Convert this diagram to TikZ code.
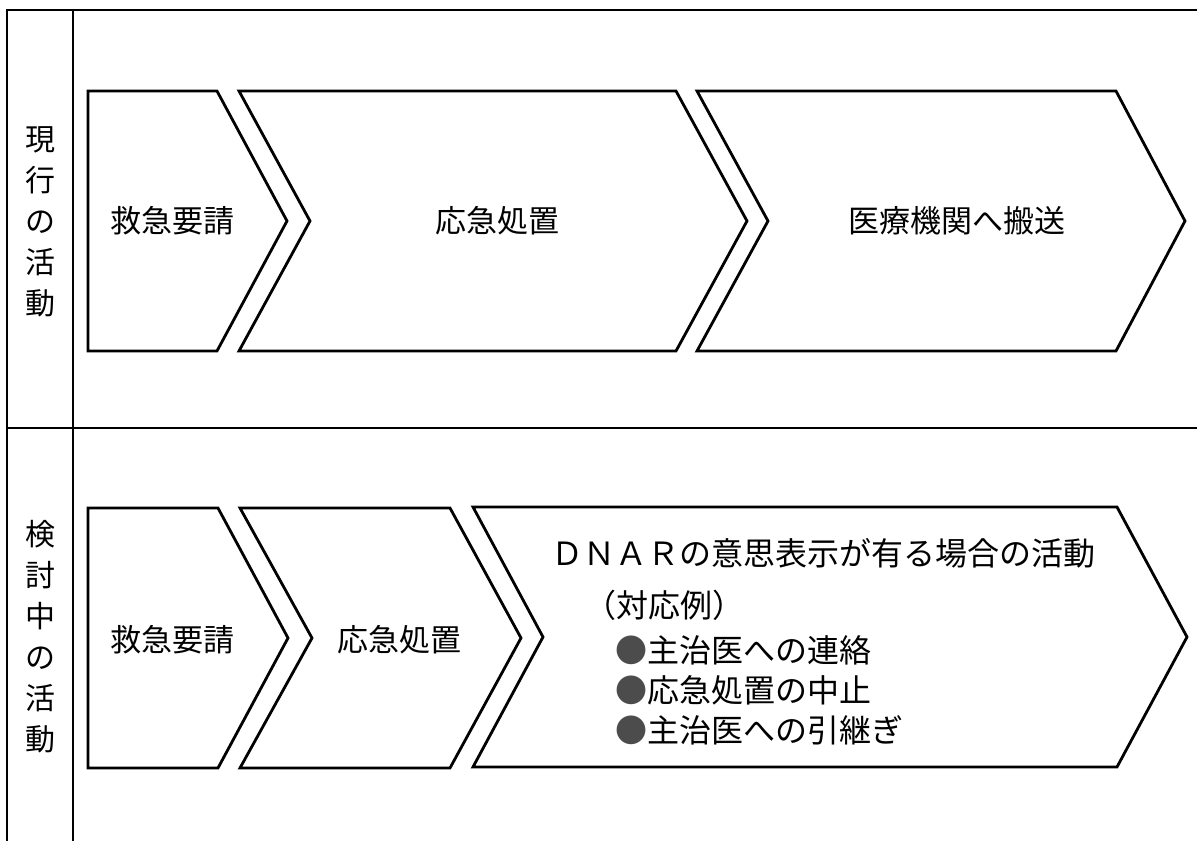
\documentclass[tikz,border=0pt]{standalone}
\usepackage{fontspec}
\setmainfont{Noto Sans CJK JP}
\begin{document}
\begin{tikzpicture}[x=1pt,y=-1pt,
  frameline/.style={line width=2pt},
  chev/.style={draw, line width=2.8pt, line join=miter},
  lbl/.style={font=\fontsize{31}{36}\selectfont, inner sep=0pt},
  vlbl/.style={font=\fontsize{30}{41}\selectfont, align=center, inner sep=0pt},
  item/.style={font=\fontsize{32}{36}\selectfont, anchor=west, inner sep=0pt}]
\useasboundingbox (0,0) rectangle (1197,841);
% frame
\coordinate (ftr) at (1197,10);
\coordinate (ftl) at (7,10);
\coordinate (fbl) at (7,841);
\coordinate (ct) at (73,10);
\coordinate (cb) at (73,841);
\coordinate (ml) at (7,428);
\coordinate (mr) at (1197,428);
\draw[frameline] (ftr) -- (ftl) -- (fbl);
\draw[frameline] (ct) -- (cb);
\draw[frameline] (ml) -- (mr);

% row labels
\node[vlbl] (lab1) at (40,222) {現\\行\\の\\活\\動};
\node[vlbl] (lab2) at (40,637) {検\\討\\中\\の\\活\\動};

% row 1 chevrons
\draw[chev] (88,91) -- (217,91) -- (287,221) -- (217,351) -- (88,351) -- cycle;
\draw[chev] (239,91) -- (676,91) -- (747,221) -- (676,351) -- (239,351) -- (310,221) -- cycle;
\draw[chev] (697,91) -- (1116,91) -- (1185,221) -- (1116,351) -- (697,351) -- (768,221) -- cycle;
\node[lbl] (a1) at (172,221) {救急要請};
\node[lbl] (a2) at (497,221) {応急処置};
\node[lbl] (a3) at (957,221) {医療機関へ搬送};

% row 2 chevrons
\draw[chev] (88,508) -- (218,508) -- (288,638) -- (218,768) -- (88,768) -- cycle;
\draw[chev] (240,508) -- (450,508) -- (521,638) -- (450,768) -- (240,768) -- (312,638) -- cycle;
\draw[chev] (473,507) -- (1117,507) -- (1187,637) -- (1117,767) -- (473,767) -- (543,637) -- cycle;
\node[lbl] (b1) at (172,640) {救急要請};
\node[lbl] (b2) at (399,640) {応急処置};
\node[item] (d0) at (551,553) {ＤＮＡＲの意思表示が有る場合の活動};
\node[item] (d1) at (584,605) {（対応例）};
\node[item] (d2) at (615,650) {{\color{black!70}●}主治医への連絡};
\node[item] (d3) at (615,690) {{\color{black!70}●}応急処置の中止};
\node[item] (d4) at (615,730) {{\color{black!70}●}主治医への引継ぎ};
\end{tikzpicture}
\end{document}
